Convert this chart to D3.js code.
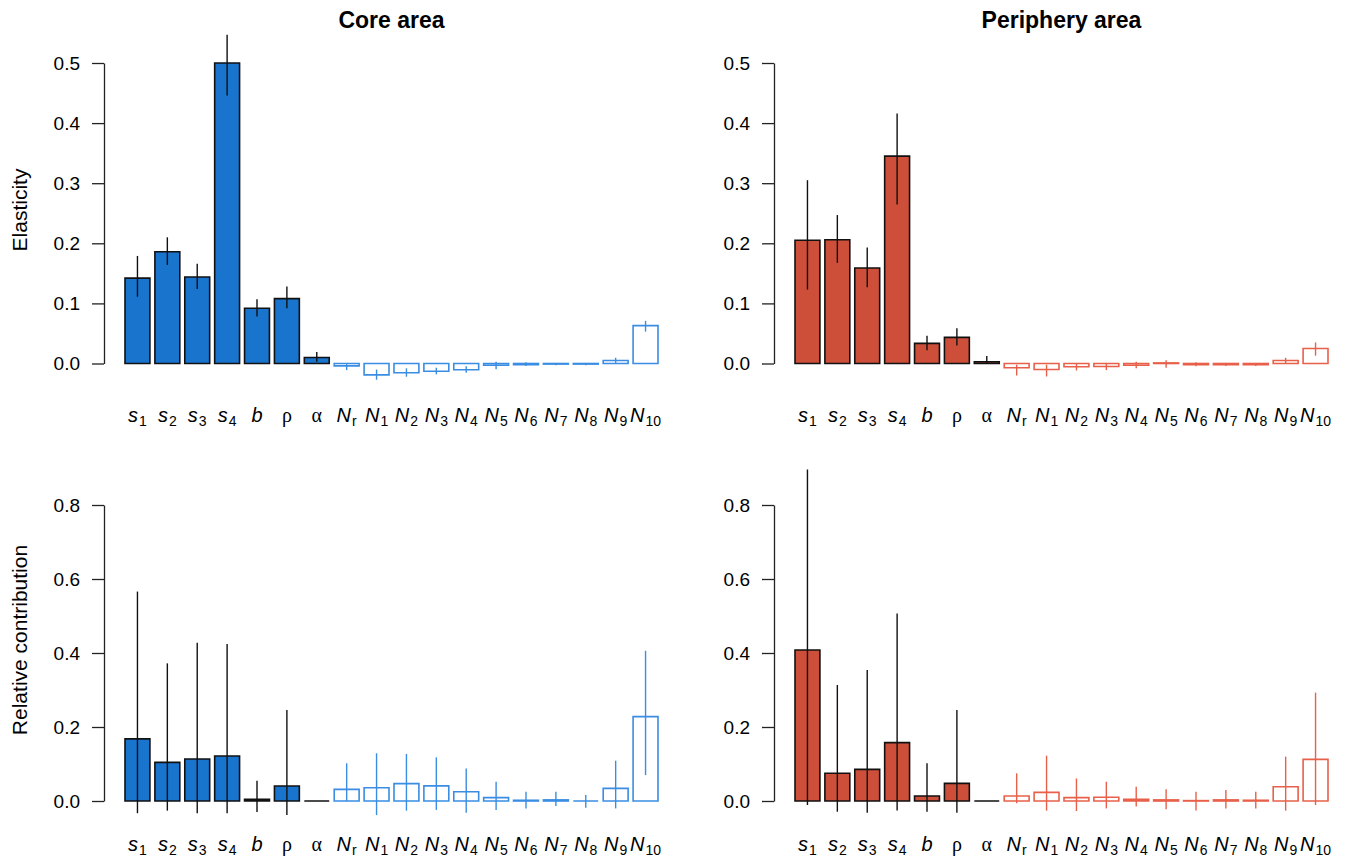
<!DOCTYPE html>
<html>
<head>
<meta charset="utf-8">
<script src="https://cdn.jsdelivr.net/npm/d3@7"></script>
<style>
  body { margin: 0; background: #fff; }
  svg { display: block; font-family: "Liberation Sans", Arial, sans-serif; }
</style>
</head>
<body>
<svg id="chart" width="1346" height="861"></svg>
<script>
// parameter labels: base symbol + subscript
const params = ["s1", "s2", "s3", "s4", "b", "rho", "alpha", "Nr", "N1", "N2", "N3", "N4", "N5", "N6", "N7", "N8", "N9", "N10"];
const labelBase = ["s", "s", "s", "s", "b", "ρ", "α", "N", "N", "N", "N", "N", "N", "N", "N", "N", "N", "N"];
const labelSub = ["1", "2", "3", "4", "", "", "", "r", "1", "2", "3", "4", "5", "6", "7", "8", "9", "10"];
// first 7 are vital rates (filled bars), the rest are stage abundances (open boxes)
const nRates = 7;

// Elasticity, core area
const coreElast   = [0.142, 0.186, 0.144, 0.500, 0.092, 0.108, 0.010, -0.004, -0.019, -0.0155, -0.013, -0.0105, -0.003, -0.002, -0.001, -0.001, 0.005, 0.063];
const coreElastLo = [0.111, 0.164, 0.124, 0.446, 0.078, 0.092, 0.003, -0.011, -0.027, -0.022, -0.018, -0.0155, -0.0096, -0.004, -0.003, -0.003, 0.001, 0.053];
const coreElastHi = [0.179, 0.210, 0.166, 0.547, 0.107, 0.128, 0.019, -0.001, -0.010, -0.008, -0.007, -0.0044, 0.003, 0.002, 0.001, 0.001, 0.0095, 0.071];

// Elasticity, periphery area
const periElast   = [0.205, 0.206, 0.159, 0.345, 0.0335, 0.0435, 0.003, -0.007, -0.010, -0.0055, -0.005, -0.003, 0.001, -0.002, -0.002, -0.002, 0.005, 0.025];
const periElastLo = [0.123, 0.1675, 0.127, 0.2645, 0.022, 0.030, 0.000, -0.020, -0.0216, -0.0116, -0.011, -0.008, -0.007, -0.0045, -0.004, -0.004, 0.000, 0.013];
const periElastHi = [0.305, 0.247, 0.193, 0.416, 0.046, 0.0585, 0.0125, -0.002, -0.002, 0.000, 0.001, 0.003, 0.0055, 0.002, 0.001, 0.001, 0.0095, 0.035];

// Relative contribution, core area
const coreContrib   = [0.168, 0.1045, 0.1135, 0.1216, 0.0045, 0.0405, 0, 0.0315, 0.036, 0.047, 0.041, 0.025, 0.009, 0.002, 0.003, 0.000, 0.034, 0.228];
const coreContribLo = [-0.033, -0.026, -0.033, -0.033, -0.030, -0.038, 0, 0.000, -0.038, -0.026, -0.024, -0.032, -0.024, -0.020, -0.0135, -0.018, -0.020, 0.070];
const coreContribHi = [0.566, 0.372, 0.428, 0.424, 0.055, 0.246, 0, 0.102, 0.129, 0.127, 0.118, 0.088, 0.052, 0.025, 0.025, 0.016, 0.109, 0.406];

// Relative contribution, periphery area
const periContrib   = [0.408, 0.0748, 0.0856, 0.1577, 0.0135, 0.0477, 0, 0.0135, 0.0234, 0.009, 0.010, 0.0045, 0.003, 0.001, 0.003, 0.002, 0.0387, 0.1126];
const periContribLo = [-0.011, -0.029, -0.032, -0.026, -0.029, -0.032, 0, -0.006, -0.026, -0.027, -0.020, -0.015, -0.022, -0.026, -0.020, -0.020, -0.026, -0.011];
const periContribHi = [0.896, 0.3135, 0.354, 0.507, 0.102, 0.246, 0, 0.0748, 0.1225, 0.061, 0.052, 0.0387, 0.032, 0.025, 0.030, 0.025, 0.120, 0.293];

const topTicks = [0, 0.1, 0.2, 0.3, 0.4, 0.5];
const bottomTicks = [0, 0.2, 0.4, 0.6, 0.8];

const coreFill = "#1874CD", coreLine = "#3a8de3";
const periFill = "#CD4F39", periLine = "#e8604a";

const svg = d3.select("#chart");

function drawPanel(opts) {
    const { dx, yRange, ticks, values, lo, hi, fill, line, title, ylab, ylabY, labelY } = opts;

    const x = d3.scaleBand()
        .domain(params)
        .range([125 + dx, 658 + dx])
        .paddingInner(1 / 6)
        .paddingOuter(0);

    const y = d3.scaleLinear()
        .domain([0, ticks[ticks.length - 1]])
        .range(yRange);

    const g = svg.append("g");

    // y axis
    const axisX = 104 + dx;
    const ax = g.append("g")
        .attr("transform", `translate(${axisX},0)`)
        .call(d3.axisLeft(y).tickValues(ticks).tickFormat(d3.format(".1f")).tickSize(12).tickSizeOuter(0).tickPadding(12));
    ax.select(".domain").attr("stroke", "#222").attr("stroke-width", 1.3);
    ax.selectAll(".tick line").attr("stroke", "#222").attr("stroke-width", 1.3);
    ax.selectAll(".tick text")
        .attr("font-size", 19)
        .attr("font-family", "Liberation Sans, Arial, sans-serif")
        .attr("fill", "#000");

    const data = params.map((p, i) => ({ p, i, v: values[i], lo: lo[i], hi: hi[i] }));

    // bars (paths so that zero-height bars still show as a line)
    g.selectAll(".bar")
        .data(data)
        .enter().append("path")
        .attr("d", d => {
            const x0 = x(d.p), x1 = x0 + x.bandwidth();
            return `M${x0},${y(0)}H${x1}V${y(d.v)}H${x0}Z`;
        })
        .attr("fill", d => d.i < nRates ? fill : "#fff")
        .attr("stroke", d => d.i < nRates ? "#111" : line)
        .attr("stroke-width", 1.6);

    // error bars
    g.selectAll(".err")
        .data(data.filter(d => d.hi !== d.lo))
        .enter().append("line")
        .attr("x1", d => x(d.p) + x.bandwidth() / 2)
        .attr("x2", d => x(d.p) + x.bandwidth() / 2)
        .attr("y1", d => y(d.lo))
        .attr("y2", d => y(d.hi))
        .attr("stroke", d => d.i < nRates ? "#111" : line)
        .attr("stroke-width", 1.4);

    // x labels
    const lab = g.selectAll(".xlab")
        .data(data)
        .enter().append("text")
        .attr("x", d => x(d.p) + x.bandwidth() / 2)
        .attr("y", labelY)
        .attr("text-anchor", "middle")
        .attr("font-size", 20);
    lab.append("tspan")
        .attr("font-style", d => (d.i === 5 || d.i === 6) ? "normal" : "italic")
        .attr("font-family", d => (d.i === 5 || d.i === 6) ? "Liberation Serif, serif" : null)
        .text(d => labelBase[d.i]);
    lab.filter(d => labelSub[d.i] !== "")
        .append("tspan")
        .attr("font-size", 14)
        .attr("dx", 1)
        .attr("dy", 4)
        .text(d => labelSub[d.i]);

    if (title) {
        g.append("text")
            .attr("x", (103.7 + 679.3) / 2 + dx)
            .attr("y", 28)
            .attr("text-anchor", "middle")
            .attr("font-size", 23)
            .attr("font-weight", "bold")
            .text(title);
    }
    if (ylab) {
        g.append("text")
            .attr("transform", `translate(27,${ylabY}) rotate(-90)`)
            .attr("text-anchor", "middle")
            .attr("font-size", 21)
            .text(ylab);
    }
}

drawPanel({ dx: 0, yRange: [363.5, 63], ticks: topTicks, values: coreElast, lo: coreElastLo, hi: coreElastHi,
    fill: coreFill, line: coreLine, title: "Core area", ylab: "Elasticity", ylabY: 210, labelY: 422 });
drawPanel({ dx: 670, yRange: [363.5, 63], ticks: topTicks, values: periElast, lo: periElastLo, hi: periElastHi,
    fill: periFill, line: periLine, title: "Periphery area", labelY: 422 });
drawPanel({ dx: 0, yRange: [801, 505], ticks: bottomTicks, values: coreContrib, lo: coreContribLo, hi: coreContribHi,
    fill: coreFill, line: coreLine, ylab: "Relative contribution", ylabY: 640, labelY: 851 });
drawPanel({ dx: 670, yRange: [801, 505], ticks: bottomTicks, values: periContrib, lo: periContribLo, hi: periContribHi,
    fill: periFill, line: periLine, labelY: 851 });
</script>
</body>
</html>
